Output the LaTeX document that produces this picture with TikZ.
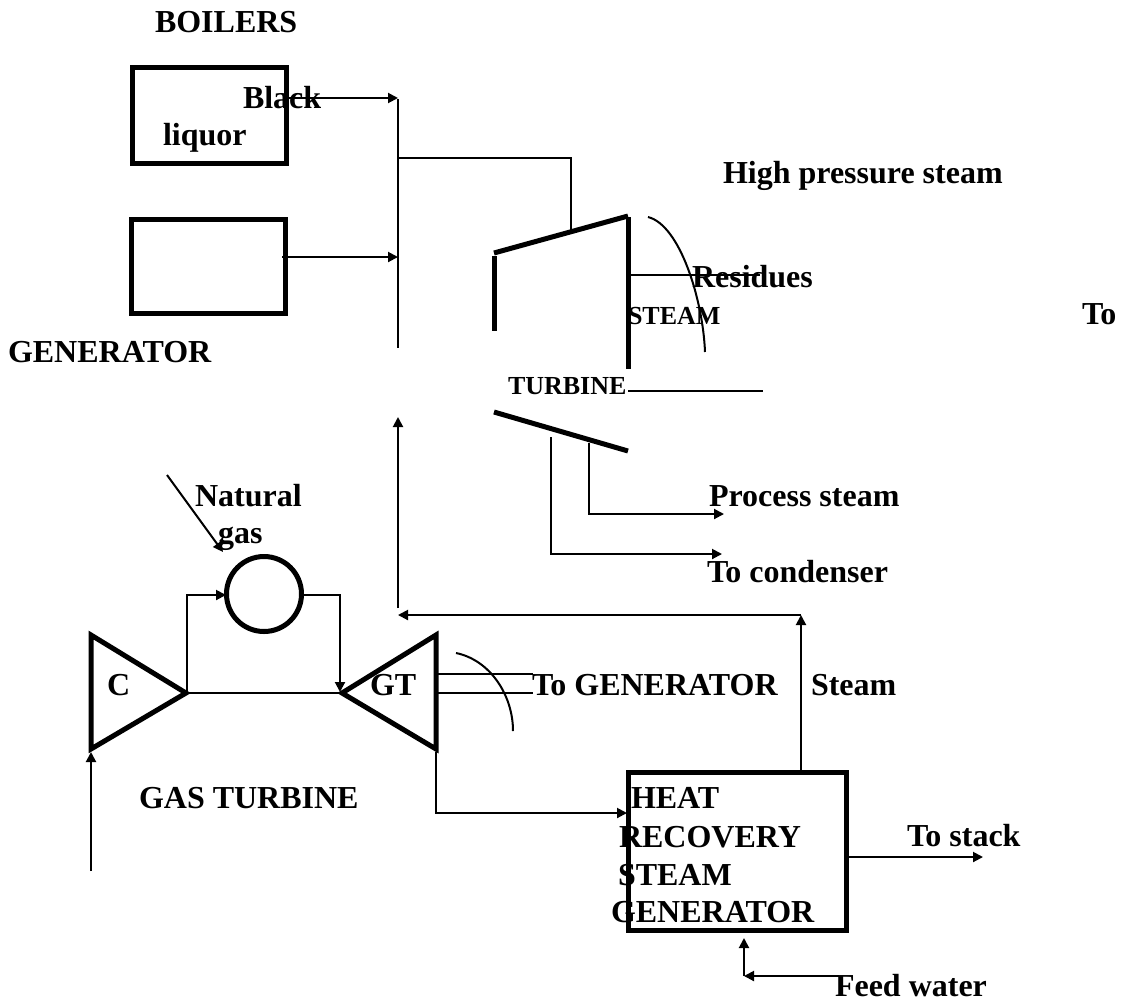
\documentclass[tikz,border=0pt]{standalone}
\usepackage{fontspec}
\setmainfont{Liberation Serif}
\usetikzlibrary{arrows.meta}
\tikzset{
  x=0.75pt,y=-0.75pt,
  lab/.style={anchor=base west,inner sep=0pt,outer sep=0pt,font=\fontsize{24}{24}\selectfont\bfseries},
  labs/.style={lab,font=\fontsize{19.5}{19.5}\selectfont\bfseries},
  heavy/.style={draw=black,line width=3.75pt,line join=miter},
  fine/.style={draw=black,line width=1.5pt},
  flow/.style={fine,-{Triangle[length=7.5pt,width=7.5pt]}},
  unit/.style={draw=black,line width=3.75pt,inner sep=0pt,outer sep=0pt,anchor=north west,minimum width=#1},
}
\begin{document}
\begin{tikzpicture}
\useasboundingbox (0,0) rectangle (1129,1001);
% boilers
\node[unit=153.5pt*0.75,minimum height=96pt*0.75] (b1) at (132.5,67.5) {};
\node[unit=154pt*0.75,minimum height=94pt*0.75] (b2) at (131,219.5) {};
% header
\coordinate (hT) at (398,99); \coordinate (hB) at (398,348);
\coordinate (h1) at (398,98); \coordinate (h2) at (398,257);
\coordinate (b1o) at (287,98); \coordinate (b2o) at (282,257);
\coordinate (hS) at (398,158); \coordinate (hC) at (571,158); \coordinate (tIn) at (571,233);
\draw[fine] (hT) -- (hB);
\draw[flow] (b1o) -- (h1);
\draw[flow] (b2o) -- (h2);
\draw[fine] (hS) -- (hC) -- (tIn);
% steam turbine
\coordinate (t1) at (494,256); \coordinate (t2) at (494,331);
\coordinate (t3) at (494,253); \coordinate (t4) at (628,216);
\coordinate (t5) at (628,217); \coordinate (t6) at (628,369);
\coordinate (t7) at (494,412); \coordinate (t8) at (628,451);
\draw[heavy] (t1) -- (t2);
\draw[heavy] (t3) -- (t4);
\draw[heavy] (t5) -- (t6);
\draw[heavy] (t7) -- (t8);
\coordinate (s1) at (628,275); \coordinate (s2) at (760,275);
\coordinate (s3) at (628,391); \coordinate (s4) at (763,391);
\draw[fine] (s1) -- (s2);
\draw[fine] (s3) -- (s4);
\coordinate (c1) at (648,217); \coordinate (c2) at (705,352);
\draw[fine] (c1) .. controls (680,225) and (703,300) .. (c2);
\coordinate (e1) at (589,443); \coordinate (e1b) at (589,514); \coordinate (e1t) at (724,514);
\coordinate (e2) at (551,437); \coordinate (e2b) at (551,554); \coordinate (e2t) at (722,554);
\draw[flow] (e1) -- (e1b) -- (e1t);
\draw[flow] (e2) -- (e2b) -- (e2t);
% return to header
\coordinate (r1) at (398,608); \coordinate (r2) at (398,417);
\draw[flow] (r1) -- (r2);
\coordinate (r3) at (801,615); \coordinate (r4) at (398,615);
\draw[flow] (r3) -- (r4);
\coordinate (hU) at (801,771); \coordinate (hU2) at (801,615);
\draw[flow] (hU) -- (hU2);
% combustor
\node[draw=black,line width=3.75pt,circle,minimum size=75pt*0.75,inner sep=0pt,outer sep=0pt] (cb) at (264,594) {};
\coordinate (ng1) at (167,475); \coordinate (ng2) at (223,552);
\draw[flow] (ng1) -- (ng2);
% gas turbine
\coordinate (ca) at (91,635); \coordinate (cb2) at (91,749); \coordinate (cc) at (186,693);
\coordinate (ga) at (436,635); \coordinate (gb) at (436,749); \coordinate (gc) at (342,693);
\draw[heavy] (ca) -- (cc) -- (cb2) -- cycle;
\draw[heavy] (ga) -- (gc) -- (gb) -- cycle;
\coordinate (k1) at (187,693); \coordinate (k2) at (187,595); \coordinate (k3) at (226,595);
\draw[flow] (k1) -- (k2) -- (k3);
\coordinate (k4) at (302,595); \coordinate (k5) at (340,595); \coordinate (k6) at (340,692);
\draw[flow] (k4) -- (k5) -- (k6);
\draw[fine] (k1) -- (gc);
\coordinate (g1) at (436,674); \coordinate (g2) at (533,674);
\coordinate (g3) at (436,693); \coordinate (g4) at (533,693);
\draw[fine] (g1) -- (g2);
\draw[fine] (g3) -- (g4);
\coordinate (c3) at (456,653); \coordinate (c4) at (513,731);
\draw[fine] (c3) .. controls (490,660) and (513,695) .. (c4);
\coordinate (i1) at (91,871); \coordinate (i2) at (91,752);
\draw[flow] (i1) -- (i2);
% HRSG
\node[unit=217.5pt*0.75,minimum height=158pt*0.75] (hr) at (628.5,772.5) {};
\coordinate (x1) at (436,752); \coordinate (x2) at (436,813); \coordinate (x3) at (627,813);
\draw[flow] (x1) -- (x2) -- (x3);
\coordinate (st1) at (848,857); \coordinate (st2) at (983,857);
\draw[flow] (st1) -- (st2);
\coordinate (f1) at (839,976); \coordinate (f2) at (744,976); \coordinate (f3) at (744,938);
\draw[flow] (f1) -- (f2);
\draw[flow] (f2) -- (f3);
% labels
\node[lab] (l1) at (155,32) {BOILERS};
\node[lab] (l2) at (243,108) {Black};
\node[lab] (l3) at (163,145) {liquor};
\node[lab] (l4) at (723,183) {High pressure steam};
\node[lab] (l5) at (692,287) {Residues};
\node[labs] (l6) at (628,324) {STEAM};
\node[lab] (l7) at (1082,324) {To};
\node[lab] (l8) at (8,362) {GENERATOR};
\node[labs] (l9) at (508,394) {TURBINE};
\node[lab] (l10) at (195,506) {Natural};
\node[lab] (l11) at (218,543) {gas};
\node[lab] (l12) at (709,506) {Process steam};
\node[lab] (l13) at (707,582) {To condenser};
\node[lab] (l14) at (107,695) {C};
\node[lab] (l15) at (370,695) {GT};
\node[lab] (l16) at (532,695) {To GENERATOR};
\node[lab] (l17) at (811,695) {Steam};
\node[lab] (l18) at (139,808) {GAS TURBINE};
\node[lab] (l19) at (631,808) {HEAT};
\node[lab] (l20) at (619,847) {RECOVERY};
\node[lab] (l21) at (618,885) {STEAM};
\node[lab] (l22) at (611,922) {GENERATOR};
\node[lab] (l23) at (907,846) {To stack};
\node[lab] (l24) at (835,996) {Feed water};
\end{tikzpicture}
\end{document}
